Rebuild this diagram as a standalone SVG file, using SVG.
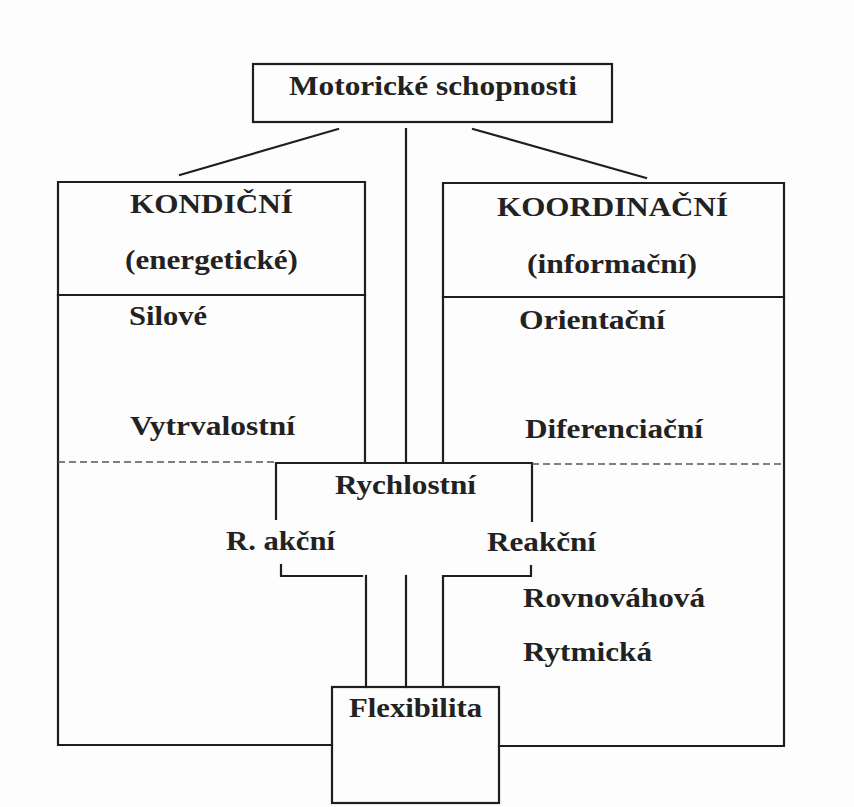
<svg xmlns="http://www.w3.org/2000/svg" width="854" height="807" viewBox="0 0 854 807">
<style>
.ln{fill:none;stroke:#1e1e1e;stroke-width:2.2;stroke-linecap:square}
.dash{fill:none;stroke:#555;stroke-width:1.3;stroke-dasharray:7 4}
.t{font-family:"Liberation Serif","Times New Roman",serif;font-weight:bold;font-size:28px;fill:#222}
</style>
<rect x="0" y="0" width="854" height="807" fill="#fdfdfd"/>
<g id="top">
<rect class="ln" x="253" y="64" width="359" height="58"/>
<text class="t" x="289" y="95" textLength="288" lengthAdjust="spacingAndGlyphs">Motorické schopnosti</text>
</g>
<g id="kondicni">
<path class="ln" d="M365 463 V182 H58 V745 H332"/>
<path class="ln" d="M58 295 H365"/>
<text class="t" x="130" y="213" textLength="163" lengthAdjust="spacingAndGlyphs">KONDIČNÍ</text>
<text class="t" x="125" y="269" textLength="173" lengthAdjust="spacingAndGlyphs">(energetické)</text>
<text class="t" x="129" y="325" textLength="78" lengthAdjust="spacingAndGlyphs">Silové</text>
<text class="t" x="130" y="435" textLength="165" lengthAdjust="spacingAndGlyphs">Vytrvalostní</text>
</g>
<g id="koordinacni">
<path class="ln" d="M443 463 V183 H784 V746 H499"/>
<path class="ln" d="M443 297 H784"/>
<text class="t" x="497" y="216" textLength="231" lengthAdjust="spacingAndGlyphs">KOORDINAČNÍ</text>
<text class="t" x="527" y="273" textLength="170" lengthAdjust="spacingAndGlyphs">(informační)</text>
<text class="t" x="519" y="329" textLength="146" lengthAdjust="spacingAndGlyphs">Orientační</text>
<text class="t" x="525" y="438" textLength="178" lengthAdjust="spacingAndGlyphs">Diferenciační</text>
<text class="t" x="523" y="607" textLength="182" lengthAdjust="spacingAndGlyphs">Rovnováhová</text>
<text class="t" x="523" y="661" textLength="129" lengthAdjust="spacingAndGlyphs">Rytmická</text>
</g>
<g id="rychlostni">
<path class="ln" d="M276 519 V463 H532 V521"/>
<text class="t" x="335" y="494" textLength="141" lengthAdjust="spacingAndGlyphs">Rychlostní</text>
<text class="t" x="226" y="550" textLength="109" lengthAdjust="spacingAndGlyphs">R. akční</text>
<text class="t" x="487" y="551" textLength="109" lengthAdjust="spacingAndGlyphs">Reakční</text>
</g>
<g id="flexibilita">
<rect class="ln" x="332" y="687" width="167" height="116"/>
<text class="t" x="349" y="717" textLength="133" lengthAdjust="spacingAndGlyphs">Flexibilita</text>
</g>
<g id="connectors">
<path class="ln" d="M338 129 L180 175"/>
<path class="ln" d="M473 129 L646 178"/>
<path class="ln" d="M406 129 V463"/>
<path class="dash" d="M58 462 H276"/>
<path class="dash" d="M532 464 H784"/>
<path class="ln" d="M281 565 V576 H362"/>
<path class="ln" d="M366 576 V687"/>
<path class="ln" d="M406 576 V687"/>
<path class="ln" d="M443 687 V576 H531 V566"/>
</g>
</svg>
